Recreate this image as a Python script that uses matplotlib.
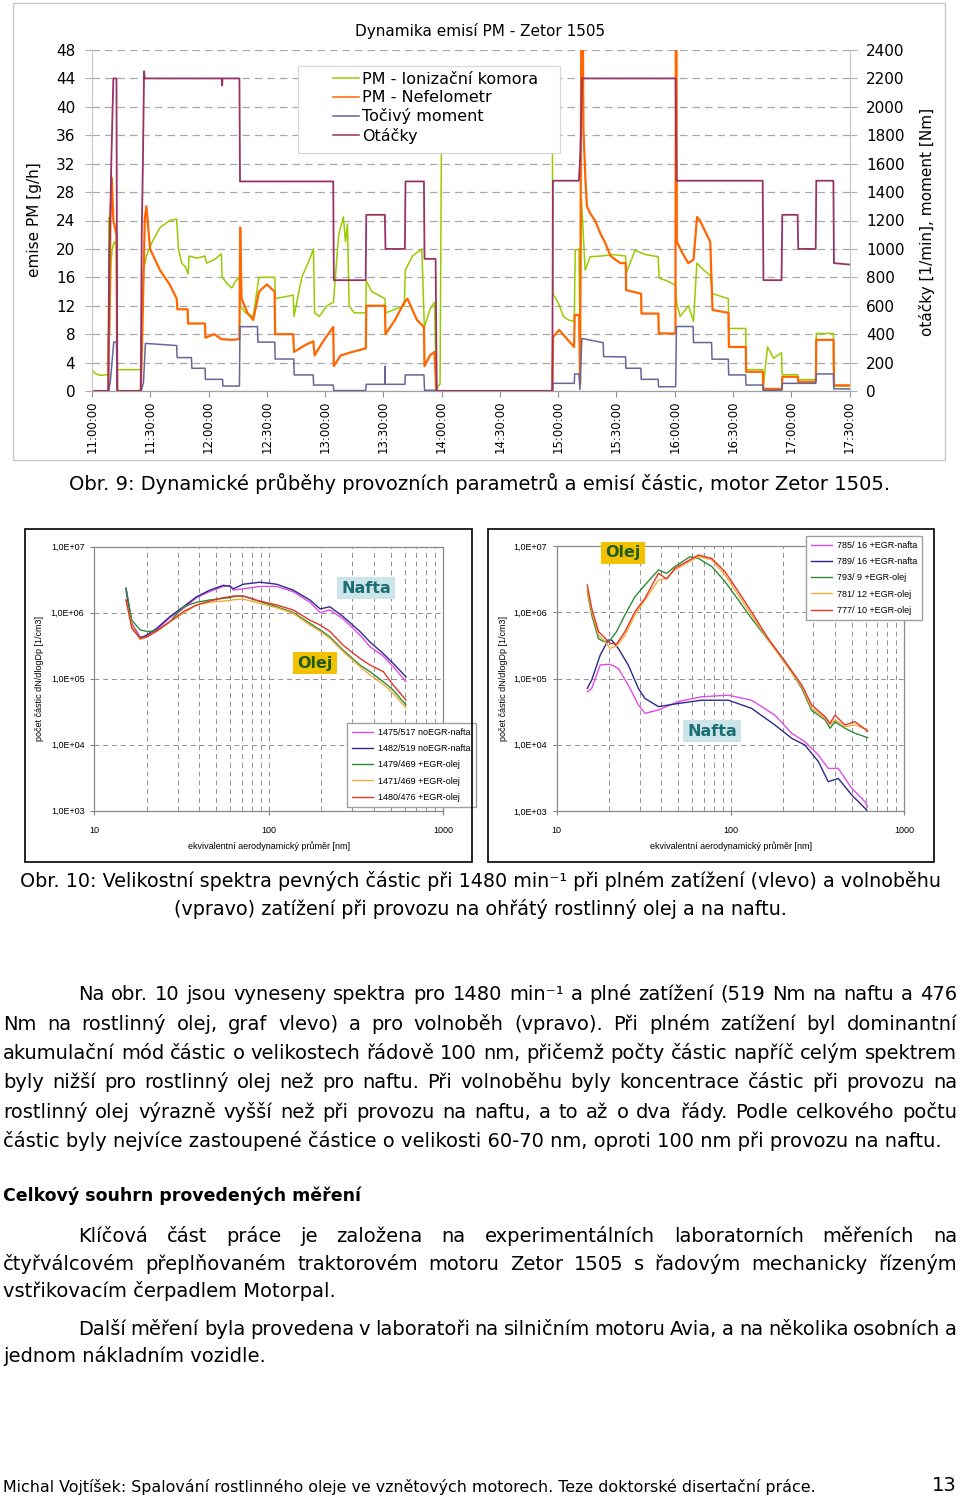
import matplotlib
matplotlib.use('Agg')
import matplotlib.pyplot as plt
import numpy as np
from matplotlib.patches import Rectangle
from matplotlib.lines import Line2D
from matplotlib.ticker import FixedLocator, NullFormatter, FuncFormatter

plt.rcParams['font.family'] = ['DejaVu Sans']

W, H = 960, 1501

# ---------------- Obr. 9 data (time in minutes after 11:00:00) ----------------
rpm_t = [0, 8.4, 8.8, 9.4, 10.0, 11.0, 12.6, 13.0, 25.1, 25.6, 26.2, 26.8, 27.2, 66.8, 67.0, 67.2,
         75.9, 76.2, 124.2, 124.5, 140.9, 141.2, 150.8, 151.1, 161.1, 161.4, 170.9, 171.2, 176.9,
         177.5, 237.0, 237.3, 250.7, 251.5, 252.3, 300.5, 300.9, 345.3, 345.7, 355.0, 355.4, 363.3,
         363.6, 372.6, 372.9, 381.7, 382.0, 390]
rpm_v = [0, 0, 900, 1200, 1650, 2200, 2200, 0, 0, 1100, 1600, 2250, 2200, 2200, 2150, 2200,
         2200, 1475, 1475, 780, 780, 1240, 1240, 1000, 1000, 1475, 1475, 930, 930,
         0, 0, 1480, 1480, 1700, 2200, 2200, 1480, 1480, 780, 780, 1240, 1240,
         1000, 1000, 1480, 1480, 900, 890]

torque_t = [0, 8.6, 9.5, 11.2, 12.6, 13.0, 25.3, 26.5, 27.5, 43.6, 43.8, 51.2, 51.4, 58.2, 58.4,
            67.2, 67.4, 75.9, 76.2, 85.2, 85.4, 94.1, 94.3, 103.9, 104.1, 113.9, 114.1, 124.2,
            124.5, 140.9, 141.2, 150.8, 150.9, 151.0, 161.1, 161.3, 170.9, 171.2, 176.9, 177.5,
            237.0, 237.4, 248.3, 248.5, 250.7, 251.2, 252.2, 263.2, 263.4, 274.7, 274.9, 282.6,
            282.8, 291.5, 291.7, 300.5, 300.9, 309.5, 309.7, 319.0, 319.2, 327.6, 327.8, 336.5,
            336.7, 345.3, 345.6, 355.1, 355.4, 372.6, 372.9, 381.7, 382.0, 390]
torque_v = [0, 0, 75, 345, 345, 0, 0, 60, 335, 320, 235, 235, 160, 160, 82,
            82, 35, 35, 453, 453, 344, 344, 225, 225, 113, 113, 42, 42,
            3, 3, 47, 47, 175, 47, 47, 113, 113, 5, 5, 0,
            0, 54, 54, 120, 120, 10, 370, 340, 242, 240, 160, 160,
            82, 82, 30, 30, 454, 454, 341, 341, 224, 224, 113, 113,
            42, 42, 5, 5, 54, 54, 120, 120, 15, 15]

ion_t = [0, 1.5, 4, 8.3, 8.6, 8.9, 9.3, 9.8, 10.4, 11.5, 12.6, 13.0, 25.0, 25.5, 26.5, 28.0, 31,
         35, 40, 43.6, 44.5, 46.2, 48, 49.5, 50, 54, 58.2, 59, 63, 66.6, 67.0, 70, 72, 74, 75.9,
         76.3, 79, 83, 85.9, 94.1, 94.4, 103.6, 104, 108, 112, 114, 114.6, 117, 121, 124.3, 127,
         129.4, 130.5, 131.5, 132.4, 135, 141, 141.2, 144, 150.8, 151.2, 156, 160.8, 161.3, 165,
         169.8, 171.1, 174, 176.3, 177.3, 179.2, 180, 237.0, 237.3, 240.2, 242.7, 245.3, 248.3,
         248.8, 250.7, 251.2, 252.0, 253.9, 256.5, 262, 268.5, 274.7, 275.0, 279.6, 285, 291.5,
         292.0, 296, 300.4, 301.1, 302.8, 307.1, 309.7, 311.4, 315, 318.3, 319.5, 327.6, 327.8,
         336.6, 336.8, 345.3, 345.6, 347.8, 350.9, 355.0, 355.3, 363.3, 363.6, 372.6, 372.9,
         381.7, 382.0, 390]
ion_v = [3.0, 2.5, 2.2, 2.3, 14, 24.5, 12, 18, 20, 21, 20.5, 3.0, 3.0, 8, 17, 19, 21,
         23, 24, 24.2, 20, 18, 17.5, 16.5, 19, 18.7, 19, 18, 18.5, 19.3, 16, 15, 14.5, 15.5, 16,
         12, 11, 10.5, 16, 16, 13, 13.5, 10.5, 16, 18.5, 20, 11, 10.5, 12, 12.5, 22,
         24.5, 21, 23.5, 12, 11, 11, 15.5, 14, 13, 11, 11.5, 12, 17, 19,
         20, 9, 11.5, 12.5, 0.3, 1.0, 40, 40, 13.7, 12.3, 10.5, 10, 9.8,
         19.8, 20, 8, 27, 17, 18.9, 19, 19.2, 19, 16.6, 19.8, 19.2, 18.9,
         15.9, 15.5, 14.9, 12.3, 10.5, 12, 9.8, 18, 17, 16.3, 13.7, 13, 8.8,
         8.8, 3.0, 3.0, 0.6, 6.2, 4.6, 5.4, 2.3, 2.3, 1.6, 1.6, 8.1,
         8.1, 0.7, 0.7]

neph_t = [0, 8.4, 8.6, 9.0, 9.5, 10.2, 11.0, 12.6, 13.0, 25.1, 25.8, 27.2, 28.0, 29.9, 35, 40,
          43.6, 44, 49.2, 49.5, 58.2, 58.4, 63, 66.5, 72, 75.9, 76.3, 77, 80, 83, 86, 90, 94,
          94.3, 103.6, 104, 110, 114, 114.6, 119, 124.2, 124.5, 128, 134, 141, 141.2, 150.8,
          151.1, 156, 160.8, 162.4, 167.3, 170.9, 171.2, 174, 176.3, 177.3, 237.0, 237.4, 240.5,
          244, 248.2, 248.5, 250.8, 251.3, 252.0, 252.6, 253, 254, 254.8, 256.5, 259, 262, 264,
          267, 272, 274.8, 275, 282.7, 282.9, 291.6, 291.8, 300.4, 300.6, 300.9, 301.1, 304, 307,
          309.7, 311.5, 313, 318.3, 319.5, 327.7, 327.9, 336.6, 336.8, 345.4, 345.6, 355.2, 355.4,
          363.4, 363.6, 372.7, 372.9, 381.8, 382.0, 390]
neph_v = [0, 0, 7, 9, 25, 30, 24, 22, 0, 0, 7, 24.3, 26, 20, 17, 15,
          13, 11.5, 11.5, 9.5, 9.5, 7.5, 8, 7.3, 7.2, 7.3, 23, 13, 11, 10, 14, 15, 14,
          8, 8, 5.5, 6.5, 7, 5, 7, 9, 3.5, 5, 5.5, 6, 12, 12,
          8, 10, 12.5, 13, 10, 9, 3.5, 5, 5.5, 0, 0, 7.6, 8.6,
          7.5, 6.2, 10.7, 10.7, 1, 60, 60, 37, 30, 26, 25, 24, 22, 21,
          19, 18, 18, 14.2, 13.7, 10.9, 10.9, 8.1, 8.1, 60, 60, 21, 19.4, 18,
          18.5, 24.5, 24, 21, 11.4, 11, 6.2, 6.2, 2.7, 2.7, 0.3, 0.3, 2.0,
          2.0, 1.3, 1.3, 7.2, 7.2, 0.8, 0.8]

time_ticks = list(range(0, 391, 30))
time_labels = ['11:00:00', '11:30:00', '12:00:00', '12:30:00', '13:00:00', '13:30:00', '14:00:00',
               '14:30:00', '15:00:00', '15:30:00', '16:00:00', '16:30:00', '17:00:00', '17:30:00']
top_labels = ['PM - Ionizační komora', 'PM - Nefelometr', 'Točivý moment', 'Otáčky']

# ---------------- Obr. 10 data ----------------
dp_full = [15.2, 16.4, 18.3, 20.0, 22.8, 27.1, 32.4, 38.6, 46.0, 54.9, 59.9, 62.6, 71.4, 89.0,
           111, 138, 172, 197, 224, 267, 333, 380, 453, 517, 611]
full_1475 = [2.08e6, 6.9e5, 4.3e5, 4.3e5, 5.5e5, 8.4e5, 1.16e6, 1.69e6, 2.1e6, 2.5e6, 2.6e6, 2.2e6,
             2.3e6, 2.5e6, 2.5e6, 2.08e6, 1.44e6, 1.0e6, 1.1e6, 8.0e5, 4.6e5, 3.05e5, 2.2e5,
             1.52e5, 9.0e4]
full_1482 = [2.34e6, 6.5e5, 4.1e5, 4.6e5, 5.8e5, 8.7e5, 1.23e6, 1.75e6, 2.2e6, 2.6e6, 2.5e6, 2.3e6,
             2.7e6, 2.9e6, 2.7e6, 2.2e6, 1.56e6, 1.14e6, 1.23e6, 8.7e5, 5.2e5, 3.6e5, 2.4e5,
             1.7e5, 1.07e5]
full_1479 = [2.34e6, 7.7e5, 5.5e5, 5.2e5, 5.3e5, 7.3e5, 1.23e6, 1.44e6, 1.56e6, 1.65e6, 1.69e6,
             1.75e6, 1.79e6, 1.47e6, 1.23e6, 1.01e6, 6.9e5, 5.5e5, 4.3e5, 2.7e5, 1.61e5, 1.28e5,
             9.0e4, 6.7e4, 4.0e4]
full_1471 = [1.56e6, 6.5e5, 3.9e5, 4.3e5, 5.2e5, 7.3e5, 9.8e5, 1.31e6, 1.44e6, 1.5e6, 1.53e6,
             1.57e6, 1.61e6, 1.38e6, 1.19e6, 9.8e5, 6.5e5, 5.2e5, 4.1e5, 2.57e5, 1.52e5, 1.14e5,
             8.2e4, 6.0e4, 3.6e4]
full_1480 = [1.56e6, 5.8e5, 4.1e5, 4.3e5, 5.3e5, 7.3e5, 1.04e6, 1.31e6, 1.5e6, 1.69e6, 1.75e6,
             1.79e6, 1.79e6, 1.5e6, 1.31e6, 1.1e6, 7.7e5, 6.5e5, 5.2e5, 3.2e5, 2.03e5, 1.61e5,
             1.28e5, 8.0e4, 4.75e4]
full_labels = ['1475/517 noEGR-nafta', '1482/519 noEGR-nafta', '1479/469 +EGR-olej',
               '1471/469 +EGR-olej', '1480/476 +EGR-olej']

dp_idle_oil = [15.0, 15.9, 17.4, 18.6, 20.3, 22.1, 24.7, 28.2, 32.2, 38.5, 42.9, 47.9, 58.5, 65.3,
               78.0, 93.0, 111, 132, 165, 206, 257, 293, 350, 374, 399, 456, 520, 615]
idle_793 = [2.05e6, 9.1e5, 4.0e5, 3.6e5, 3.8e5, 5.1e5, 9.1e5, 1.72e6, 2.58e6, 4.35e6, 3.87e6, 4.9e6,
            6.9e6, 6.5e6, 4.9e6, 2.9e6, 1.53e6, 8.1e5, 3.8e5, 1.8e5, 7.1e4, 3.3e4, 2.37e4, 1.77e4,
            2.23e4, 1.77e4, 1.49e4, 1.28e4]
idle_781 = [2.17e6, 1.02e6, 4.5e5, 3.8e5, 2.85e5, 3.1e5, 4.5e5, 9.1e5, 1.53e6, 3.07e6, 3.25e6,
            4.35e6, 5.9e6, 6.9e6, 6.2e6, 3.65e6, 1.82e6, 9.1e5, 3.8e5, 1.69e5, 7.5e4, 3.6e4, 2.5e4,
            2.0e4, 2.37e4, 1.87e4, 2.0e4, 1.67e4]
idle_777 = [2.58e6, 1.15e6, 5.1e5, 4.3e5, 3.4e5, 3.3e5, 5.1e5, 1.02e6, 1.62e6, 3.87e6, 3.18e6,
            4.6e6, 6.2e6, 7.3e6, 6.5e6, 4.1e6, 2.05e6, 1.02e6, 4.0e5, 1.8e5, 8.0e4, 4.0e4, 2.65e4,
            2.1e4, 2.8e4, 1.99e4, 2.23e4, 1.61e4]
dp_idle_dsl = [15.0, 15.9, 17.8, 19.8, 20.7, 22.6, 25.8, 29.5, 32.2, 38.5, 50.1, 68.3, 97.2, 132,
               180, 225, 268, 320, 365, 417, 498, 594, 615]
idle_785 = [6.3e4, 7.1e4, 1.6e5, 1.64e5, 1.6e5, 1.42e5, 8.0e4, 4.0e4, 2.98e4, 3.35e4, 4.5e4, 5.3e4,
            5.6e4, 4.7e4, 2.8e4, 1.49e4, 1.11e4, 7.0e3, 4.4e3, 4.4e3, 2.2e3, 1.38e3, 1.16e3]
idle_789 = [7.1e4, 9.5e4, 2.26e5, 3.8e5, 3.8e5, 2.85e5, 1.6e5, 7.1e4, 5.0e4, 3.76e4, 4.2e4, 4.7e4,
            4.7e4, 3.55e4, 1.99e4, 1.25e4, 9.9e3, 5.6e3, 2.77e3, 3.1e3, 1.75e3, 1.1e3, 9.8e2]
idle_labels = ['785/ 16 +EGR-nafta', '789/ 16 +EGR-nafta', '793/ 9 +EGR-olej',
               '781/ 12 +EGR-olej', '777/ 10 +EGR-olej']

spec_colors = ['#e04ce6', '#2b2b8c', '#2e8b3a', '#f2ac3a', '#e0382a']


def fx(x):
    return x / W


def fy(y):
    return 1 - y / H


fig = plt.figure(figsize=(W / 100, H / 100), dpi=100)


def axes_px(x0, y0, x1, y1):
    return fig.add_axes([fx(x0), fy(y1), (x1 - x0) / W, (y1 - y0) / H])


def frame(x0, y0, x1, y1, color, lw):
    fig.add_artist(Rectangle((fx(x0), fy(y1)), (x1 - x0) / W, (y1 - y0) / H,
                             transform=fig.transFigure, fill=False, ec=color, lw=lw))


# ================= Obr. 9 =================
frame(13, 3, 945, 460, '#c8c8c8', 1.0)
ax = axes_px(92, 50, 849.5, 391)
ax.plot(ion_t, ion_v, color='#99cc00', lw=1.1)
ax.plot(neph_t, neph_v, color='#ff6600', lw=1.6)
ax.set_xlim(0, 390)
ax.set_ylim(0, 48)
ax.set_yticks(range(0, 49, 4))
ax.grid(axis='y', color='#a8a8a8', ls=(0, (6, 4)), lw=0.9)
ax.set_xticks(time_ticks)
ax.set_xticklabels(time_labels, rotation=90, fontsize=8.5)
ax.tick_params(axis='y', labelsize=11, length=5, color='#b0b0b0', pad=7)
ax.tick_params(axis='x', length=4, color='#909090', pad=3)
ax.spines['top'].set_visible(False)
ax.spines['left'].set_color('#c8c8c8')
ax.spines['right'].set_color('#c8c8c8')
ax.spines['bottom'].set_color('#a0a0a0')

ax2 = ax.twinx()
ax2.plot(torque_t, torque_v, color='#666699', lw=1.1)
ax2.plot(rpm_t, rpm_v, color='#993366', lw=1.3)
ax2.set_ylim(0, 2400)
ax2.set_yticks(range(0, 2401, 200))
ax2.tick_params(axis='y', labelsize=11, length=5, color='#b0b0b0', pad=7)
ax2.spines['top'].set_visible(False)
ax2.spines['left'].set_color('#c8c8c8')
ax2.spines['right'].set_color('#c8c8c8')
ax2.spines['bottom'].set_color('#a0a0a0')

fig.text(fx(480), fy(31), 'Dynamika emisí PM - Zetor 1505', ha='center', va='center', fontsize=11)
fig.text(fx(35), fy(220), 'emise PM [g/h]', rotation=90, ha='center', va='center', fontsize=11)
fig.text(fx(927), fy(222), 'otáčky [1/min], moment [Nm]', rotation=90, ha='center', va='center',
         fontsize=11)

fig.add_artist(Rectangle((fx(298), fy(153)), 262 / W, 87 / H, transform=fig.transFigure,
                         fc='white', ec='#d8d8d8', lw=0.9, zorder=4))
top_handles = [Line2D([], [], color=c, lw=1.1) for c in ['#99cc00', '#ff6600', '#666699', '#993366']]
fig.legend(top_handles, top_labels, loc='upper left', bbox_to_anchor=(fx(333), fy(72)),
           frameon=False, fontsize=11.5, handlelength=1.6, handletextpad=0.2,
           labelspacing=0.2, borderpad=0, borderaxespad=0)

fig.text(fx(480), fy(483), 'Obr. 9: Dynamické průběhy provozních parametrů a emisí částic, motor Zetor 1505.',
         ha='center', va='center', fontsize=14)


# ================= Obr. 10 =================
def spectrum(box, series, labels, leg_xy):
    a = axes_px(*box)
    for (d, v), c, lab in zip(series, spec_colors, labels):
        a.plot(d, v, color=c, lw=1.0, label=lab)
    a.set_xscale('log')
    a.set_yscale('log')
    a.set_xlim(10, 1000)
    a.set_ylim(1e3, 1e7)
    a.xaxis.set_major_locator(FixedLocator([10, 100, 1000]))
    a.xaxis.set_minor_locator(FixedLocator([k * m for m in (10, 100) for k in range(2, 10)]))
    a.xaxis.set_minor_formatter(NullFormatter())
    a.xaxis.set_major_formatter(FuncFormatter(lambda v, p: f'{v:g}'))
    a.yaxis.set_major_locator(FixedLocator([1e3, 1e4, 1e5, 1e6, 1e7]))
    a.yaxis.set_minor_locator(FixedLocator([]))
    a.yaxis.set_major_formatter(FuncFormatter(lambda v, p: f'1,0E+{int(round(np.log10(v))):02d}'))
    a.grid(axis='x', which='both', color='#909090', ls=(0, (5, 4)), lw=0.7)
    a.grid(axis='y', which='major', color='#909090', ls=(0, (5, 4)), lw=0.7)
    a.tick_params(which='both', labelsize=6.5, length=3, color='#808080', pad=4)
    a.tick_params(axis='x', which='major', pad=8)
    a.tick_params(which='minor', length=0)
    for lab in a.get_xticklabels() + a.get_yticklabels():
        lab.set_family('Liberation Sans')
    for s in a.spines.values():
        s.set_color('#8a8a8a')
        s.set_linewidth(0.9)
    a.legend(loc='upper left', bbox_to_anchor=(fx(leg_xy[0]), fy(leg_xy[1])),
             bbox_transform=fig.transFigure, prop={'family': 'Liberation Sans', 'size': 6.5},
             fancybox=False, edgecolor='#a0a0a0', framealpha=1, handlelength=2.3,
             handletextpad=0.6, labelspacing=0.8, borderpad=0.55, borderaxespad=0)
    return a


frame(25, 529, 472, 862, 'black', 1.2)
frame(488, 529, 934, 862, 'black', 1.2)

spectrum((94.3, 546.7, 443.3, 810.7),
         [(dp_full, full_1475), (dp_full, full_1482), (dp_full, full_1479),
          (dp_full, full_1471), (dp_full, full_1480)], full_labels, (347, 723))
spectrum((556.7, 546, 904.3, 811),
         [(dp_idle_dsl, idle_785), (dp_idle_dsl, idle_789), (dp_idle_oil, idle_793),
          (dp_idle_oil, idle_781), (dp_idle_oil, idle_777)], idle_labels, (806, 536))

for xc in (40, 503):
    fig.text(fx(xc), fy(678), 'počet částic dN/dlogDp [1/cm3]', rotation=90, ha='center', va='center',
             fontsize=6.5, family='Liberation Sans')
for xc in (269, 731):
    fig.text(fx(xc), fy(846), 'ekvivalentní aerodynamický průměr [nm]', ha='center', va='center',
             fontsize=6.5, family='Liberation Sans')


def tag(x, y, s, fc, tc):
    fig.text(fx(x), fy(y), s, ha='center', va='center', fontsize=11.5, weight='bold', color=tc,
             bbox=dict(boxstyle='square,pad=0.25', fc=fc, ec='none'))


tag(366, 588, 'Nafta', '#cde5e9', '#1b6f74')
tag(315, 663, 'Olej', '#f2c200', '#1f5c1f')
tag(623, 553, 'Olej', '#f2c200', '#1f5c1f')
tag(712, 731, 'Nafta', '#cde5e9', '#1b6f74')

# ================= text =================
renderer = fig.canvas.get_renderer()
BODY = 14


def line_text(s, x0, y, x1=None, size=BODY, weight='normal', ha='left'):
    # y is the visual middle of the line; place on a common baseline
    yb = fy(y + 0.36 * size * 100 / 72 * 0.7)
    if x1 is None:
        fig.text(fx(x0), yb, s, fontsize=size, va='baseline', ha=ha, weight=weight)
        return
    words = s.split(' ')
    objs = [fig.text(0, yb, w, fontsize=size, va='baseline', ha='left', weight=weight) for w in words]
    widths = [o.get_window_extent(renderer).width for o in objs]
    gap = (x1 - x0 - sum(widths)) / (len(words) - 1)
    x = x0
    for o, w in zip(objs, widths):
        o.set_x(fx(x))
        x += w + gap


line_text('Obr. 10: Velikostní spektra pevných částic při 1480 min⁻¹ při plném zatížení (vlevo) a volnoběhu',
          480, 882, size=13.8, ha='center')
line_text('(vpravo) zatížení při provozu na ohřátý rostlinný olej a na naftu.', 480, 910, size=13.8,
          ha='center')

p1 = ['Na obr. 10 jsou vyneseny spektra pro 1480 min⁻¹ a plné zatížení (519 Nm na naftu a 476',
      'Nm na rostlinný olej, graf vlevo) a pro volnoběh (vpravo). Při plném zatížení byl dominantní',
      'akumulační mód částic o velikostech řádově 100 nm, přičemž počty částic napříč celým spektrem',
      'byly nižší pro rostlinný olej než pro naftu. Při volnoběhu byly koncentrace částic při provozu na',
      'rostlinný olej výrazně vyšší než při provozu na naftu, a to až o dva řády. Podle celkového počtu',
      'částic byly nejvíce zastoupené částice o velikosti 60-70 nm, oproti 100 nm při provozu na naftu.']
p1_y = [995, 1025, 1054, 1083, 1113, 1142]
for i, (s, y) in enumerate(zip(p1, p1_y)):
    line_text(s, 78 if i == 0 else 3, y, None if i == len(p1) - 1 else 957)

line_text('Celkový souhrn provedených měření', 3, 1197, size=12.5, weight='bold')

p2 = ['Klíčová část práce je založena na experimentálních laboratorních měřeních na',
      'čtyřválcovém přeplňovaném traktorovém motoru Zetor 1505 s řadovým mechanicky řízeným',
      'vstřikovacím čerpadlem Motorpal.']
for i, (s, y) in enumerate(zip(p2, [1237, 1265, 1292])):
    line_text(s, 78 if i == 0 else 3, y, None if i == len(p2) - 1 else 957)

p3 = ['Další měření byla provedena v laboratoři na silničním motoru Avia, a na několika osobních a',
      'jednom nákladním vozidle.']
for i, (s, y) in enumerate(zip(p3, [1330, 1357])):
    line_text(s, 78 if i == 0 else 3, y, None if i == len(p3) - 1 else 957)

line_text('Michal Vojtíšek: Spalování rostlinného oleje ve vznětových motorech. Teze doktorské disertační práce.',
          3, 1488, size=11.4)
line_text('13', 957, 1486, size=14, ha='right')

fig.savefig('out.png', dpi=100)
